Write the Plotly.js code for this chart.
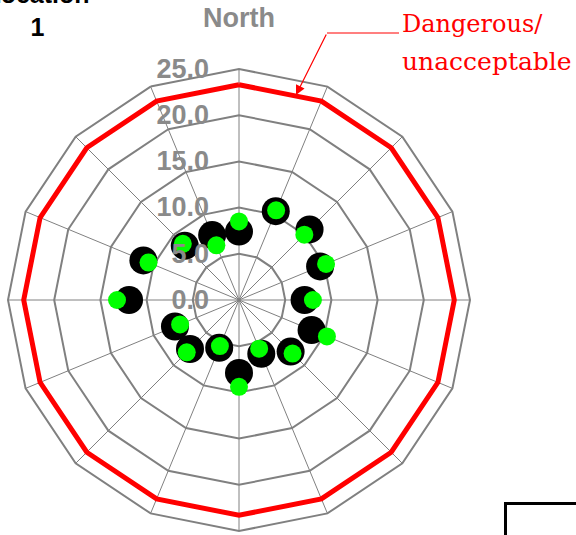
<!DOCTYPE html>
<html>
<head>
<meta charset="utf-8">
<script src="https://cdn.plot.ly/plotly-3.0.1.min.js"></script>
<style>html,body{margin:0;padding:0;background:#fff;}#chart{width:576px;height:535px;}</style>
</head>
<body>
<div id="chart"></div>
<script>
// ---- data ----
var directions = ['N','NNE','NE','ENE','E','ESE','SE','SSE','S','SSW','SW','WSW','W','WNW','NW','NNW'];
var directionLabels = ['North','','','','','','','','','','','','','','',''];
var seriesBlack = [7.4, 10.4, 10.8, 9.5, 7.1, 8.5, 7.9, 6.3, 7.9, 5.6, 7.5, 7.5, 11.9, 11.2, 8.3, 7.6];
var seriesGreen = [8.5, 10.5, 10.0, 10.2, 8.0, 10.3, 8.2, 5.7, 9.4, 5.4, 8.0, 6.9, 13.2, 10.6, 8.6, 6.4];
var dangerLevel = [23.3, 23.3, 23.3, 23.3, 23.3, 23.3, 23.3, 23.3, 23.3, 23.3, 23.3, 23.3, 23.3, 23.3, 23.3, 23.3];
var radialTicks = [0, 5, 10, 15, 20, 25];
var seriesNames = ['Average', 'Maximum'];

var W = 576, H = 535;
function px(x){ return x / W; }
function py(y){ return 1 - y / H; }

var closedDirs = directions.concat([directions[0]]);
var closedDanger = dangerLevel.concat([dangerLevel[0]]);

var traces = [
  {
    type: 'scatterpolar', mode: 'lines',
    r: closedDanger, theta: closedDirs,
    line: {color: '#ff0000', width: 5},
    showlegend: false, hoverinfo: 'skip'
  },
  {
    type: 'scatterpolar', mode: 'markers', name: seriesNames[0],
    r: seriesBlack, theta: directions,
    marker: {color: '#000000', size: 28}
  },
  {
    type: 'scatterpolar', mode: 'markers', name: seriesNames[1],
    r: seriesGreen, theta: directions,
    marker: {color: '#00ff00', size: 18}
  }
];

var grey = '#8a8a8a';
var layout = {
  width: W, height: H,
  margin: {l: 0, r: 0, t: 0, b: 0, autoexpand: false},
  paper_bgcolor: '#ffffff',
  font: {family: 'Liberation Sans, Arial, sans-serif'},
  title: {
    text: 'Location<br>1',
    font: {family: 'Liberation Sans, Arial, sans-serif', size: 25, color: '#000000', weight: 'bold'},
    x: px(37.5), xanchor: 'center', xref: 'paper',
    y: py(3), yanchor: 'bottom', yref: 'container'
  },
  showlegend: true,
  legend: {
    x: px(504), y: py(502), xanchor: 'left', yanchor: 'top',
    bordercolor: '#000000', borderwidth: 3, bgcolor: '#ffffff',
    indentation: 70,
    font: {size: 16, color: '#000000'}
  },
  polar: {
    domain: {x: [px(8), px(470)], y: [py(531), py(69)]},
    bgcolor: '#ffffff',
    gridshape: 'linear',
    radialaxis: {
      range: [0, 25],
      tickmode: 'array', tickvals: radialTicks, tickformat: '.1f',
      angle: 90, side: 'counterclockwise', tickangle: 90,
      showline: false,
      ticks: 'outside', ticklen: 20, tickcolor: 'rgba(0,0,0,0)',
      gridcolor: '#808080', gridwidth: 2,
      tickfont: {family: 'Liberation Sans, Arial, sans-serif', size: 27, color: grey, weight: 'bold'}
    },
    angularaxis: {
      type: 'category',
      categoryarray: directions,
      direction: 'clockwise', rotation: 90,
      tickmode: 'array', tickvals: directions, ticktext: directionLabels,
      ticks: 'outside', ticklen: 30, tickcolor: 'rgba(0,0,0,0)',
      showline: true, linecolor: '#808080', linewidth: 2,
      gridcolor: '#808080', gridwidth: 1,
      tickfont: {family: 'Liberation Sans, Arial, sans-serif', size: 27, color: grey, weight: 'bold'}
    }
  },
  shapes: [
    {type: 'line', xref: 'paper', yref: 'paper',
     x0: px(327), y0: py(33), x1: px(399), y1: py(33),
     line: {color: '#ff0000', width: 1.2}}
  ],
  annotations: [
    {text: 'Dangerous/', xref: 'paper', yref: 'paper', x: px(400), y: py(24),
     xanchor: 'left', yanchor: 'middle', showarrow: false,
     font: {family: 'DejaVu Serif, serif', size: 24, color: '#ff0000'}},
    {text: 'unacceptable', xref: 'paper', yref: 'paper', x: px(400), y: py(61),
     xanchor: 'left', yanchor: 'middle', showarrow: false,
     font: {family: 'DejaVu Serif, serif', size: 25, color: '#ff0000'}},
    {text: '', xref: 'paper', yref: 'paper', x: px(296), y: py(95),
     showarrow: true, ax: 31, ay: -62, axref: 'pixel', ayref: 'pixel',
     arrowcolor: '#ff0000', arrowwidth: 1.2, arrowhead: 2, arrowsize: 1.6, standoff: 0}
  ]
};

Plotly.newPlot('chart', traces, layout, {displayModeBar: false, staticPlot: true});
</script>
</body>
</html>
